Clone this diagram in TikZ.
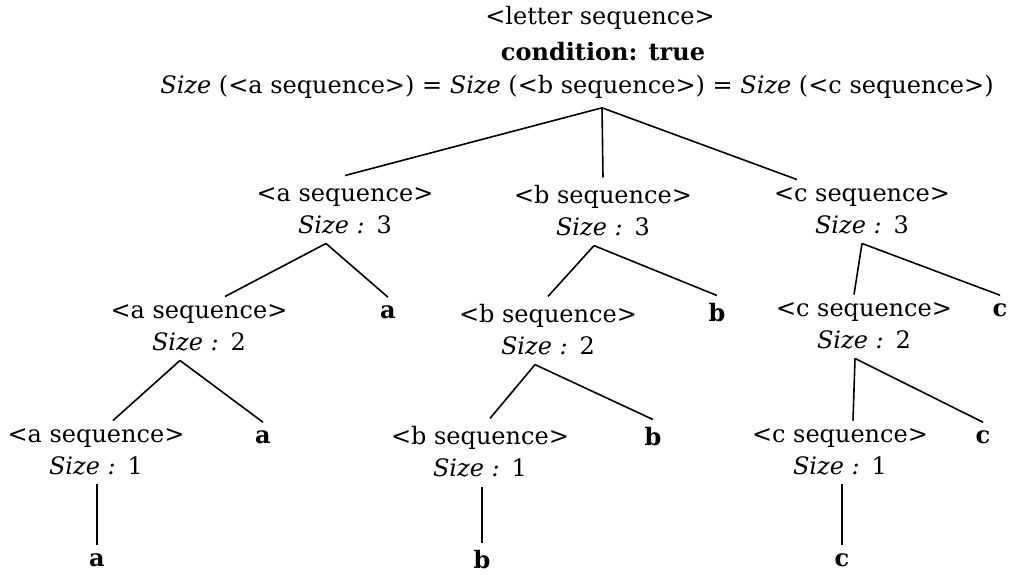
\documentclass[tikz,border=0pt]{standalone}
\usepackage{fontspec}
\setmainfont{DejaVu Serif}
\usetikzlibrary{positioning}

\begin{document}
\begin{tikzpicture}[x=1pt,y=-1pt,
		every node/.style={inner sep=0pt,font=\fontsize{24}{32}\selectfont},
		seq/.style={align=center},
		term/.style={font=\fontsize{24}{32}\selectfont\bfseries},
		edge/.style={line width=1.6pt}]
		\useasboundingbox (0,0) rectangle (1014,576);
		% root
		\node (title) at (600,18) {<letter sequence>};
		\node[term] (cond) at (603,52) {condition: true};
		\node (sizes) at (577,87) {\textit{Size} (<a sequence>) = \textit{Size} (<b sequence>) = \textit{Size} (<c sequence>)};
		% first level
		\node[seq] (a1) at (345,211) {<a sequence>\\\textit{Size :}\enspace 3};
		\node[seq] (b1) at (603,211) {<b sequence>\\\textit{Size :}\enspace 3};
		\node[seq] (c1) at (862,211) {<c sequence>\\\textit{Size :}\enspace 3};
		% second level
		\node[seq] (a2) at (199,328) {<a sequence>\\\textit{Size :}\enspace 2};
		\node[term] (ta2) at (388,312) {a};
		\node[seq] (b2) at (548,330) {<b sequence>\\\textit{Size :}\enspace 2};
		\node[term] (tb2) at (717,313) {b};
		\node[seq] (c2) at (864,326) {<c sequence>\\\textit{Size :}\enspace 2};
		\node[term] (tc2) at (1000,310) {c};
		% third level
		\node[seq] (a3) at (96,452) {<a sequence>\\\textit{Size :}\enspace 1};
		\node[term] (ta3) at (263,437) {a};
		\node[seq] (b3) at (480,452) {<b sequence>\\\textit{Size :}\enspace 1};
		\node[term] (tb3) at (653,437) {b};
		\node[seq] (c3) at (840,452) {<c sequence>\\\textit{Size :}\enspace 1};
		\node[term] (tc3) at (983,437) {c};
		% leaves
		\node[term] (ta4) at (97,560) {a};
		\node[term] (tb4) at (482,560) {b};
		\node[term] (tc4) at (842,560) {c};

		\draw[edge] ([xshift=25pt,yshift=-9pt]sizes.south) -- ([yshift=12pt]a1.north);
		\draw[edge] ([xshift=25pt,yshift=-9pt]sizes.south) -- ([yshift=8pt]b1.north);
		\draw[edge] ([xshift=25pt,yshift=-9pt]sizes.south) -- ([xshift=-65pt,yshift=8pt]c1.north);

		\draw[edge] ([xshift=-19pt,yshift=-9pt]a1.south) -- ([xshift=26pt,yshift=8pt]a2.north);
		\draw[edge] ([xshift=-19pt,yshift=-9pt]a1.south) -- ([yshift=8pt]ta2.north);
		\draw[edge] ([xshift=-9pt,yshift=-9pt]b1.south) -- ([yshift=8pt]b2.north);
		\draw[edge] ([xshift=-9pt,yshift=-9pt]b1.south) -- ([yshift=8pt]tb2.north);
		\draw[edge] ([yshift=-9pt]c1.south) -- ([xshift=-10pt,yshift=8pt]c2.north);
		\draw[edge] ([yshift=-9pt]c1.south) -- ([yshift=8pt]tc2.north);

		\draw[edge] ([xshift=-19pt,yshift=-9pt]a2.south) -- ([xshift=17pt,yshift=8pt]a3.north);
		\draw[edge] ([xshift=-19pt,yshift=-9pt]a2.south) -- ([yshift=8pt]ta3.north);
		\draw[edge] ([xshift=-13pt,yshift=-9pt]b2.south) -- ([xshift=10pt,yshift=8pt]b3.north);
		\draw[edge] ([xshift=-13pt,yshift=-9pt]b2.south) -- ([yshift=8pt]tb3.north);
		\draw[edge] ([xshift=-9pt,yshift=-9pt]c2.south) -- ([xshift=13pt,yshift=8pt]c3.north);
		\draw[edge] ([xshift=-9pt,yshift=-9pt]c2.south) -- ([yshift=8pt]tc3.north);

		\draw[edge] ([xshift=1pt,yshift=-9pt]a3.south) -- ([yshift=8pt]ta4.north);
		\draw[edge] ([xshift=2pt,yshift=-9pt]b3.south) -- ([yshift=8pt]tb4.north);
		\draw[edge] ([xshift=2pt,yshift=-9pt]c3.south) -- ([yshift=8pt]tc4.north);
	\end{tikzpicture}
\end{document}
